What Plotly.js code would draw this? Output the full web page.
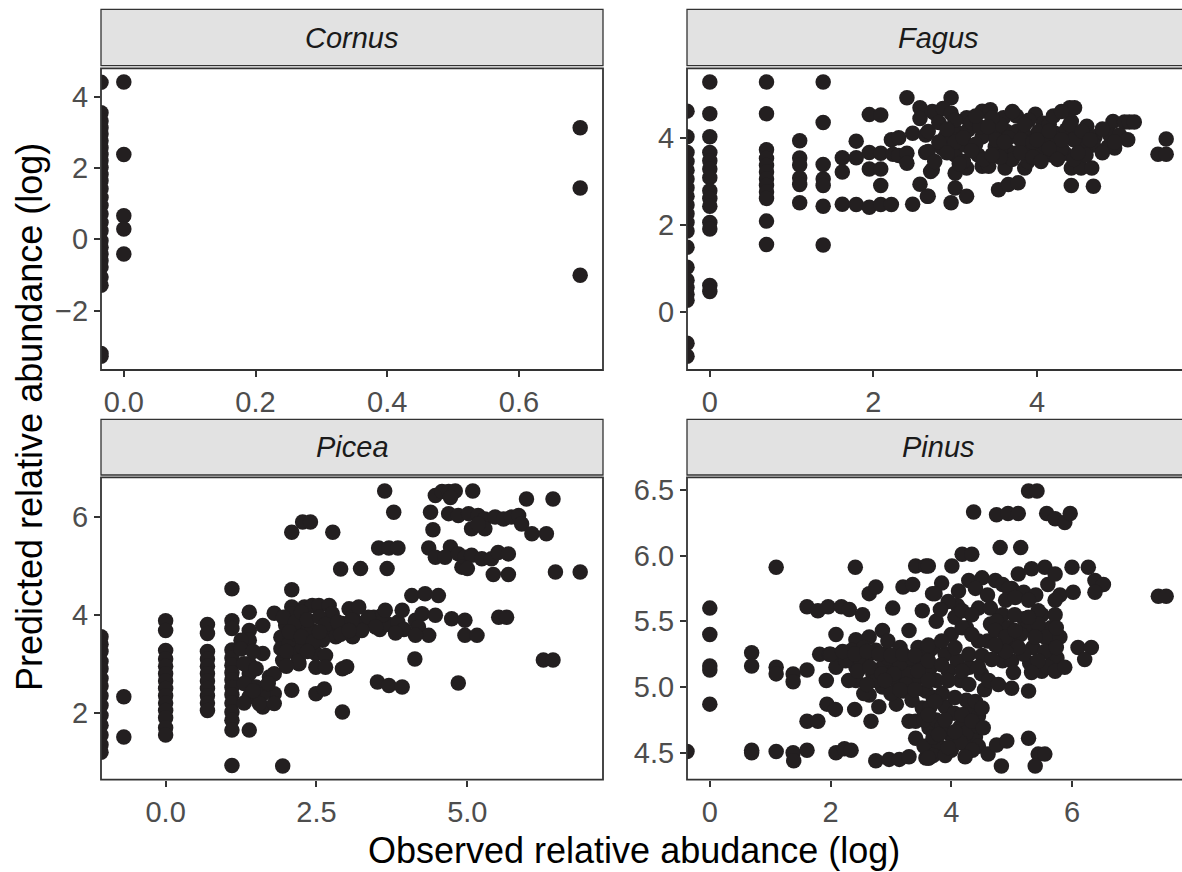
<!DOCTYPE html>
<html>
<head>
<meta charset="utf-8">
<script src="https://cdn.plot.ly/plotly-3.0.1.min.js"></script>
<style>
html,body{margin:0;padding:0;overflow:hidden;background:#ffffff;}
#plot{width:1190px;height:872px;}
</style>
</head>
<body>
<div id="plot"></div>
<script>
// ---------------- DATA ----------------
const panelNames = ['Cornus', 'Fagus', 'Picea', 'Pinus'];
const xTitle = 'Observed relative abudance (log)';
const yTitle = 'Predicted relative abundance (log)';

// points with observed = 0 (log = -Inf) are drawn at the left panel edge: only their y values
const cornusEdgeY = [4.40,3.55,3.32,3.13,2.95,2.76,2.57,2.38,2.20,2.01,1.82,1.64,1.42,1.17,0.95,0.71,0.47,0.24,-0.04,-0.22,-0.41,-0.60,-0.78,-1.06,-1.29,-3.20,-3.28];
const cornusPoints = [[0,4.41],[0,2.38],[0,0.66],[0,0.29],[0,-0.41],[0.693,3.13],[0.693,1.44],[0.693,-1.01]];

const fagusEdgeY = [4.61,4.02,3.66,3.45,3.25,3.05,2.85,2.65,2.45,2.25,2.05,1.85,1.48,1.02,0.72,0.55,0.40,0.26,-0.73,-1.03];
const fagusPoints = [
[0,5.28],[0,4.55],[0,4.02],[0,3.66],[0,3.47],[0,3.28],[0,3.08],[0,2.78],[0,2.60],[0,2.42],[0,2.05],[0,1.90],[0,0.60],[0,0.46],
[0.693,5.28],[0.693,4.55],[0.693,3.72],[0.693,3.52],[0.693,3.36],[0.693,3.21],[0.693,3.05],[0.693,2.90],[0.693,2.75],[0.693,2.60],[0.693,2.08],[0.693,1.54],
[1.099,3.93],[1.099,3.53],[1.099,3.37],[1.099,3.07],[1.099,2.92],[1.099,2.50],
[1.386,5.28],[1.386,4.35],[1.386,3.38],[1.386,3.05],[1.386,2.90],[1.386,2.42],[1.386,1.53],
[1.62,3.54],[1.62,3.21],[1.62,2.47],[1.79,3.92],[1.79,3.54],[1.79,2.46],[1.95,4.53],[1.95,3.66],[1.95,3.28],[1.95,2.40],
[2.09,4.52],[2.09,3.64],[2.09,3.28],[2.09,2.90],[2.09,2.46],[2.22,2.46],[2.22,3.95],[2.24,3.62],[2.31,4.00],[2.31,3.59],
[2.41,4.92],[2.41,3.64],[2.41,3.41],[2.48,4.10],[2.48,2.47],[2.57,4.69],[2.57,4.44],[2.57,2.93],[2.64,4.06],[2.64,3.66],
[2.66,2.65],[2.70,3.22],[2.72,4.60],[2.95,4.92],
[2.75,4.56],[2.85,4.67],[2.95,4.56],[3.14,4.46],[3.33,4.61],[3.43,4.64],[3.59,4.46],[3.75,4.50],[3.98,4.54],[4.08,4.33],
[4.40,4.69],[4.46,4.69],[4.42,4.37],[4.61,4.26],[4.93,4.37],[5.07,4.36],[5.13,4.36],[5.19,4.36],
[2.67,4.14],[2.88,4.02],[3.04,4.10],[3.16,4.18],[3.33,4.02],[3.49,4.14],[3.63,4.14],[3.75,4.14],[3.85,4.06],[4.02,4.14],
[4.22,4.10],[4.36,4.18],[4.52,4.06],[4.71,4.02],[4.89,4.06],[5.01,4.06],[5.11,3.95],[5.58,3.97],
[2.67,3.68],[2.84,3.76],[3.00,3.60],[3.12,3.83],[3.28,3.60],[3.49,3.79],[3.63,3.72],[3.73,3.64],[3.89,3.83],[4.02,3.68],
[4.18,3.60],[4.34,3.64],[4.54,3.79],[4.69,3.83],[4.87,3.79],[4.95,3.76],[5.48,3.62],[5.58,3.62],
[2.72,3.26],[3.00,3.18],[3.14,3.30],[3.33,3.34],[3.41,3.34],[3.61,3.30],[3.85,3.30],[3.89,3.45],[4.42,3.30],[4.54,3.30],[4.67,3.30],
[3.00,2.84],[2.67,2.65],[3.14,2.65],[2.95,2.50],[3.53,2.80],[3.65,2.92],[3.77,2.96],[4.42,2.90],[4.69,2.88],
[3.20,4.35],[3.30,4.25],[3.55,4.30],[3.65,4.00],[3.80,3.95],[3.95,3.90],[4.10,3.85],[4.15,4.30],[4.25,3.90],[3.50,3.95],
[3.00,3.90],[2.80,3.90],[3.10,3.45],[3.70,3.50],[3.55,3.55],[4.30,3.75],[4.45,3.95],[4.60,3.60],
[2.80,4.35],[3.00,4.40],[3.25,4.50],[3.45,4.45],[3.70,4.60],[3.90,4.40],[4.20,4.50],[4.30,4.60],
[2.90,4.20],[3.10,4.00],[3.25,3.85],[3.40,4.25],[3.60,3.90],[3.85,4.30],[4.00,3.95],[4.15,4.15],[4.30,3.95],[4.40,4.30],
[4.55,4.15],[4.65,3.95],[4.80,4.20],[4.95,3.90],
[2.75,3.45],[2.90,3.65],[3.05,3.40],[3.20,3.70],[3.35,3.50],[3.45,3.60],[3.80,3.65],[3.95,3.55],[4.05,3.45],[4.15,3.75],
[4.25,3.50],[4.45,3.50],[4.50,3.65],[4.80,3.65]
];

const piceaEdgeY = [3.55,3.40,3.25,3.05,2.90,2.70,2.55,2.35,2.15,1.95,1.75,1.55,1.35,1.20];
const piceaPoints = [
[-0.693,2.33],[-0.693,1.51],
[0,3.88],[0,3.68],[0,3.27],[0,3.10],[0,2.95],[0,2.80],[0,2.65],[0,2.50],[0,2.35],[0,2.20],[0,2.05],[0,1.90],[0,1.70],[0,1.55],
[0.693,3.80],[0.693,3.62],[0.693,3.25],[0.693,3.10],[0.693,2.95],[0.693,2.80],[0.693,2.65],[0.693,2.50],[0.693,2.35],[0.693,2.20],[0.693,2.05],
[1.099,4.53],[1.099,3.88],[1.099,3.72],[1.099,3.28],[1.099,3.12],[1.099,2.97],[1.099,2.82],[1.099,2.67],[1.099,2.52],[1.099,2.37],[1.099,2.20],[1.099,2.02],[1.099,1.85],[1.099,1.65],[1.099,0.93],
[1.386,4.05],[1.386,3.68],[1.386,3.48],[1.386,3.00],[1.386,2.80],[1.386,2.55],[1.386,2.33],[1.386,1.65],
[1.25,3.48],[1.61,3.78],[1.61,3.21],[1.61,2.12],[1.72,2.73],[1.80,2.80],[1.80,4.03],[1.80,2.39],[1.80,2.19],[1.61,2.39],
[1.91,3.54],[1.91,3.31],[1.99,3.78],[2.05,3.41],[2.09,4.51],[2.09,5.68],[2.09,4.16],[2.09,4.02],[2.09,2.46],[2.16,3.21],
[2.21,3.00],[2.27,5.89],[2.40,5.89],[2.30,4.16],[2.43,4.19],[2.54,4.19],[2.71,4.19],[2.32,3.68],[2.38,3.48],[2.49,3.21],
[2.65,3.17],[2.49,2.93],[2.65,2.93],[2.49,2.39],[2.63,2.49],[2.77,5.68],[2.90,4.93],[2.93,2.90],[3.00,2.94],[2.93,2.02],
[2.93,3.82],[3.04,4.12],[1.94,0.92],
[2.71,3.68],[2.82,3.55],[2.60,3.48],[2.27,3.34],[2.16,3.61],[1.94,3.07],[2.43,3.68],[2.76,4.02],[3.01,3.68],
[1.50,2.53],[1.55,2.19],[1.70,2.60],
[1.25,3.30],[1.30,3.00],[1.45,3.25],[1.50,2.90],[1.30,2.60],[1.45,2.45],[1.30,2.20],
[1.95,3.95],[2.15,3.85],[2.25,4.05],[2.35,3.90],[2.55,3.95],[2.65,3.80],[2.85,3.85],[3.10,3.95],[3.20,3.75],[3.30,3.85],
[3.45,3.95],[3.55,3.70],[3.70,3.80],[3.85,3.85],[3.95,3.70],[3.60,4.00],
[2.05,3.65],[2.25,3.55],[2.45,3.45],[2.55,3.65],[2.90,3.60],[3.10,3.55],[2.00,3.25],[2.20,3.05],[2.35,3.25],[2.00,2.95],
[3.63,6.52],[3.78,6.09],[3.53,5.36],[3.70,5.36],[3.85,5.36],[3.23,4.94],[3.67,4.94],
[4.47,6.43],[4.58,6.51],[4.69,6.51],[4.80,6.52],[4.72,6.39],[5.09,6.52],[5.98,6.36],[6.42,6.36],
[4.39,6.09],[4.43,5.73],[4.69,6.06],[4.85,6.02],[5.02,6.06],[5.18,6.02],[5.29,5.95],[5.46,5.99],[5.60,5.95],[5.73,5.99],
[5.85,6.02],[5.90,5.85],[6.07,5.65],[6.31,5.65],[5.07,5.75],[5.29,5.75],[5.18,5.85],
[4.36,5.36],[4.47,5.17],[4.72,5.38],[4.63,5.17],[4.85,5.24],[4.96,5.17],[4.91,4.97],[5.07,5.21],[5.24,5.14],[5.40,5.14],
[5.51,5.27],[5.68,5.24],[5.43,4.82],[5.68,4.82],[5.00,4.94],[6.46,4.87],[6.87,4.87],
[4.08,4.39],[4.30,4.43],[4.52,4.39],
[3.20,4.16],[3.36,3.95],[3.48,3.75],[3.25,3.68],[3.09,3.89],[3.04,3.68],[3.64,4.09],[3.92,4.09],[3.81,3.63],[4.14,3.89],
[4.25,4.02],[4.19,3.75],[4.36,3.58],[4.14,3.58],[4.47,3.99],[4.74,3.92],[4.96,3.89],[4.96,3.58],[5.16,3.58],[5.52,3.95],[5.65,3.95],
[4.13,3.10],[3.51,2.63],[3.70,2.56],[3.92,2.53],[4.85,2.61],[6.26,3.08],[6.42,3.08]
];

const pinusEdgeY = [4.51];
const pinusPoints = [
[0,5.60],[0,5.40],[0,5.16],[0,5.13],[0,4.87],
[0.693,5.26],[0.693,5.16],[0.693,4.52],[0.693,4.50],
[1.099,5.91],[1.099,5.15],[1.099,5.10],[1.099,4.51],
[1.38,5.10],[1.38,5.04],[1.38,4.50],[1.39,4.44],
[1.61,5.13],[1.61,4.52],[1.61,4.74],[1.79,4.74],[1.61,5.61],[1.79,5.58],[1.96,5.61],[2.18,5.61],[2.31,5.59],[2.53,5.55],
[2.09,4.50],[2.23,4.53],[2.34,4.52],[1.94,4.87],[2.08,4.83],[1.82,5.25],[1.98,5.25],[2.15,5.25],[2.09,5.40],[2.09,5.15],
[1.93,5.05],[2.41,5.91],[2.40,4.83],[2.67,4.74],[2.42,5.36],[2.42,5.15],[2.42,5.05],[2.64,5.71],[2.75,5.76],[2.64,5.38],
[2.64,5.25],[2.64,4.94],[2.86,5.43],[2.89,5.25],[3.03,5.60],[3.20,5.76],[3.36,5.78],[3.30,5.43],[3.09,4.87],[3.30,4.74],
[3.41,4.74],[3.41,5.92],[3.58,5.92],[2.75,4.44],[2.97,4.45],[3.14,4.45],[3.30,4.47],[3.41,4.61],[3.52,5.58],[3.69,5.71],
[2.86,5.15],[3.08,5.15],[3.30,5.20],[3.52,5.15],[3.41,5.05],[3.08,5.05],[2.86,5.00],[3.20,4.97],[3.58,4.97],[3.52,4.84],
[3.63,4.69],[3.58,4.46],[3.63,5.27],[3.66,5.15],[3.69,4.59],[3.63,4.46],
[2.50,5.20],[2.70,5.10],[2.95,5.35],[3.15,5.30],[3.25,5.10],[3.45,5.30],[2.75,5.05],[3.00,4.95],[3.35,4.90],[3.55,4.75],
[2.25,5.20],[2.30,5.05],[2.55,4.95],[2.80,4.85],
[2.35,5.28],[2.55,5.30],[2.75,5.28],[2.95,5.22],[3.15,5.18],[3.35,5.22],[3.55,5.25],
[2.45,5.12],[2.65,5.15],[2.85,5.10],[3.05,5.10],[3.25,5.02],[3.45,5.12],[2.60,5.02],[2.90,5.05],[3.15,4.98],[3.40,4.98],
[2.00,5.25],[2.20,5.27],[2.40,5.25],[2.60,5.27],[2.80,5.25],[3.00,5.24],[3.20,5.25],[3.40,5.24],
[3.70,5.30],[3.90,5.25],[4.10,5.20],[4.30,5.15],[4.50,5.10],[3.75,5.05],[3.95,5.12],[4.15,5.05],[4.55,4.98],
[3.70,4.92],[3.90,4.85],[4.30,4.82],[3.75,4.75],[3.95,4.65],[4.15,4.70],[4.40,4.62],
[3.80,4.55],[4.00,4.52],[4.20,4.57],[4.45,4.55],[3.55,4.55],[3.70,4.48],
[3.70,4.62],[3.85,4.70],[4.05,4.60],[4.25,4.65],[4.45,4.70],[3.85,4.95],[4.05,4.80],[4.25,4.90],[4.45,4.78],[3.65,4.85],
[4.15,4.58],[4.35,4.52],[3.90,4.48],
[4.60,5.35],[4.80,5.30],[5.00,5.35],[5.20,5.52],[5.35,5.45],[5.50,5.55],[5.65,5.45],[4.65,5.48],[4.85,5.20],[5.30,5.18],
[5.50,5.12],[5.65,5.25],[4.00,5.40],[4.25,5.45],[4.45,5.35],[4.10,5.62],[4.45,5.60],[3.95,5.65],[3.75,5.50],
[4.65,5.60],[4.85,5.55],[5.05,5.55],[5.25,5.45],[5.45,5.40],[5.65,5.35],[4.75,5.50],[4.95,5.45],[5.15,5.40],[5.35,5.30],
[5.55,5.38],[5.75,5.22],[5.00,5.75],[5.20,5.72],[5.40,5.70],[5.60,5.78],[5.80,5.70],[5.00,5.20],[5.20,5.25],[5.60,5.15],[5.80,5.38],
[5.28,6.49],[5.42,6.49],[4.37,6.33],[4.75,6.31],[4.94,6.32],[5.11,6.32],[5.58,6.32],[5.72,6.28],[5.88,6.25],[5.97,6.32],
[4.18,6.01],[4.34,6.01],[4.81,6.06],[5.15,6.06],[3.62,5.92],[4.01,5.92],[3.84,5.79],[5.11,5.86],[5.33,5.90],[5.55,5.91],
[5.72,5.86],[6.00,5.91],[6.27,5.91],[6.38,5.81],[6.52,5.78],[6.02,5.72],[6.38,5.72],[5.72,5.66],[4.29,5.81],[4.51,5.83],
[4.73,5.81],[4.12,5.73],[4.40,5.75],[4.60,5.70],[4.85,5.78],[4.95,5.75],[7.43,5.69],[7.56,5.69],[3.73,5.71],[3.82,5.59],
[4.06,5.53],[4.18,5.58],[4.34,5.55],[4.18,5.45],[4.34,5.40],[4.90,5.66],[5.06,5.68],[5.28,5.66],[5.44,5.58],[5.72,5.55],
[5.74,5.45],[5.44,5.48],[5.28,5.53],[4.73,5.43],[4.90,5.38],[5.06,5.43],[5.11,5.30],[4.90,5.27],[4.73,5.32],[5.39,5.38],
[5.55,5.27],[5.74,5.30],[5.44,5.20],[5.72,5.12],[5.88,5.15],[6.10,5.30],[6.32,5.30],[6.21,5.21],[5.03,5.11],[5.33,5.11],
[3.62,5.32],[3.84,5.35],[4.06,5.30],[4.29,5.25],[4.51,5.24],[4.67,5.21],[3.62,5.20],[3.84,5.17],[4.18,5.12],[4.45,5.15],
[3.62,5.05],[3.95,5.05],[4.29,5.02],[4.62,5.05],[4.78,5.02],[5.00,4.99],[5.28,4.97],[3.73,4.89],[4.06,4.92],[4.40,4.89],
[4.51,4.84],[3.62,4.79],[3.90,4.75],[4.18,4.79],[4.34,4.74],[3.79,4.64],[4.06,4.66],[4.53,4.69],[3.62,4.46],[4.23,4.47],
[4.61,4.49],[4.75,4.56],[4.92,4.59],[4.83,4.40],[5.28,4.61],[5.44,4.49],[5.55,4.49],[5.39,4.40],[3.95,4.54]
];

// tick values / labels
const cornusXTicks = [0, 0.2, 0.4, 0.6];   const cornusXLabels = ['0.0','0.2','0.4','0.6'];
const cornusYTicks = [-2, 0, 2, 4];        const cornusYLabels = ['\u22122','0','2','4'];
const fagusXTicks  = [0, 2, 4];            const fagusXLabels  = ['0','2','4'];
const fagusYTicks  = [0, 2, 4];            const fagusYLabels  = ['0','2','4'];
const piceaXTicks  = [0, 2.5, 5];          const piceaXLabels  = ['0.0','2.5','5.0'];
const piceaYTicks  = [2, 4, 6];            const piceaYLabels  = ['2','4','6'];
const pinusXTicks  = [0, 2, 4, 6];         const pinusXLabels  = ['0','2','4','6'];
const pinusYTicks  = [4.5, 5, 5.5, 6, 6.5]; const pinusYLabels = ['4.5','5.0','5.5','6.0','6.5'];

// ---------------- LAYOUT GEOMETRY (px) ----------------
const W = 1190, H = 872;
const FONT = '"Liberation Sans", Arial, Helvetica, sans-serif';
const cols = [[101, 603], [687, 1189]];
const rows = [[68.3, 370], [477.3, 779.7]];
const stripRows = [[9.3, 65.7], [419.3, 475]];
const fx = v => v / W;
const fy = v => 1 - v / H;

function expand(vals) {
  const mn = Math.min(...vals), mx = Math.max(...vals), d = (mx - mn) * 0.05;
  return [mn - d, mx + d];
}

const panels = [
  {name: panelNames[0], pts: cornusPoints, edge: cornusEdgeY, xt: cornusXTicks, xl: cornusXLabels, yt: cornusYTicks, yl: cornusYLabels, c: 0, r: 0},
  {name: panelNames[1], pts: fagusPoints,  edge: fagusEdgeY,  xt: fagusXTicks,  xl: fagusXLabels,  yt: fagusYTicks,  yl: fagusYLabels,  c: 1, r: 0},
  {name: panelNames[2], pts: piceaPoints,  edge: piceaEdgeY,  xt: piceaXTicks,  xl: piceaXLabels,  yt: piceaYTicks,  yl: piceaYLabels,  c: 0, r: 1},
  {name: panelNames[3], pts: pinusPoints,  edge: pinusEdgeY,  xt: pinusXTicks,  xl: pinusXLabels,  yt: pinusYTicks,  yl: pinusYLabels,  c: 1, r: 1}
];

const traces = [];
const layout = {
  width: W, height: H,
  margin: {l: 0, r: 0, t: 0, b: 0},
  paper_bgcolor: '#ffffff', plot_bgcolor: '#ffffff',
  showlegend: false, hovermode: false,
  font: {family: FONT, color: '#000000'},
  shapes: [], annotations: []
};

panels.forEach((p, i) => {
  const k = i === 0 ? '' : String(i + 1);
  const xr = expand(p.pts.map(d => d[0]));
  const yr = expand(p.pts.map(d => d[1]).concat(p.edge));
  const xs = p.pts.map(d => d[0]).concat(p.edge.map(() => xr[0]));
  const ys = p.pts.map(d => d[1]).concat(p.edge);
  traces.push({
    type: 'scatter', mode: 'markers', x: xs, y: ys,
    xaxis: 'x' + k, yaxis: 'y' + k, cliponaxis: true,
    marker: {size: 15.5, color: '#231f20', line: {width: 0}}
  });
  const axCommon = {
    showgrid: false, zeroline: false, showline: false,
    ticks: 'outside', ticklen: 6, tickwidth: 2, tickcolor: '#333333',
    tickfont: {size: 29, color: '#4d4d4d', family: FONT},
    tickmode: 'array', fixedrange: true
  };
  layout['xaxis' + k] = Object.assign({}, axCommon, {
    domain: [fx(cols[p.c][0]), fx(cols[p.c][1])], range: xr, anchor: 'y' + k,
    tickvals: p.xt, ticktext: p.xl
  });
  layout['yaxis' + k] = Object.assign({}, axCommon, {
    domain: [fy(rows[p.r][1]), fy(rows[p.r][0])], range: yr, anchor: 'x' + k,
    tickvals: p.yt, ticktext: p.yl
  });
  // panel border
  layout.shapes.push({type: 'rect', xref: 'x' + k + ' domain', yref: 'y' + k + ' domain',
    x0: 0, x1: 1, y0: 0, y1: 1, line: {color: '#333333', width: 1.8}, fillcolor: 'rgba(0,0,0,0)', layer: 'above'});
  // strip
  layout.shapes.push({type: 'rect', xref: 'paper', yref: 'paper',
    x0: fx(cols[p.c][0]), x1: fx(cols[p.c][1]), y0: fy(stripRows[p.r][1]), y1: fy(stripRows[p.r][0]),
    line: {color: '#333333', width: 1.3}, fillcolor: '#e2e2e2', layer: 'below'});
  layout.annotations.push({xref: 'paper', yref: 'paper',
    x: fx((cols[p.c][0] + cols[p.c][1]) / 2), y: fy((stripRows[p.r][0] + stripRows[p.r][1]) / 2),
    xanchor: 'center', yanchor: 'middle', showarrow: false,
    text: '<i>' + p.name + '</i>', font: {size: 29, color: '#1a1a1a', family: FONT}});
});

// axis titles
layout.annotations.push({xref: 'paper', yref: 'paper', x: fx(634), y: fy(850),
  xanchor: 'center', yanchor: 'middle', showarrow: false,
  text: xTitle, font: {size: 36, color: '#000000', family: FONT}});
layout.annotations.push({xref: 'paper', yref: 'paper', x: fx(29), y: fy(417),
  xanchor: 'center', yanchor: 'middle', showarrow: false, textangle: -90,
  text: yTitle, font: {size: 36, color: '#000000', family: FONT}});

Plotly.newPlot('plot', traces, layout, {staticPlot: true, displayModeBar: false});
</script>
</body>
</html>
